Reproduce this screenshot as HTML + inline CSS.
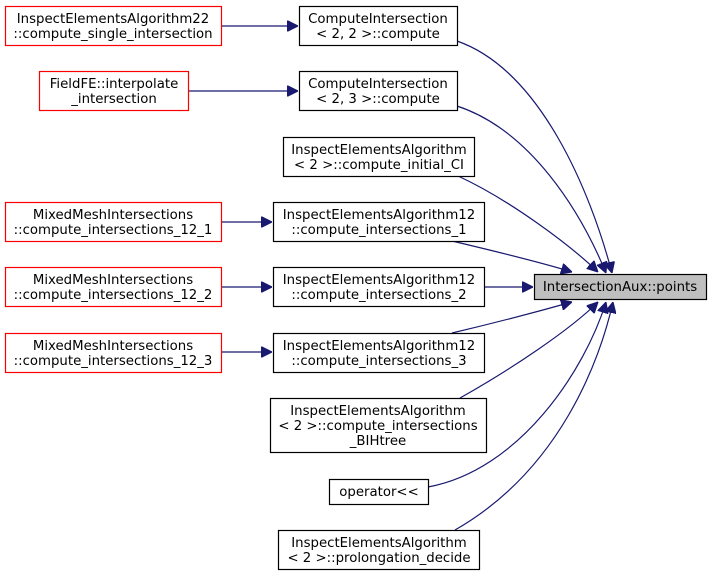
<!DOCTYPE html>
<html><head><meta charset="utf-8"><style>
html,body{margin:0;padding:0;background:#fff;}
text{font-family:"DejaVu Sans","Liberation Sans",sans-serif;font-size:13.3px;fill:#000;}
</style></head><body>
<svg width="712" height="576" viewBox="0 0 712 576" xmlns="http://www.w3.org/2000/svg">
<defs><marker id="a" viewBox="0 0 10 10" refX="10" refY="5" markerWidth="11" markerHeight="11" markerUnits="userSpaceOnUse" orient="auto"><path d="M0,0 L10,5 L0,10 z" fill="#191970" stroke="#191970"/></marker></defs>
<g fill="none" stroke="#191970" stroke-width="1.2">
<path d="M222,26 L298,26" marker-end="url(#a)"/>
<path d="M188,91 L298,91" marker-end="url(#a)"/>
<path d="M222,222 L272,222" marker-end="url(#a)"/>
<path d="M222,287 L272,287" marker-end="url(#a)"/>
<path d="M222,352 L272,352" marker-end="url(#a)"/>
<path d="M457,41 C540,70 590,190 612,273" marker-end="url(#a)"/>
<path d="M457,106 C530,130 580,210 606,273" marker-end="url(#a)"/>
<path d="M458,176 C510,200 570,245 598,272" marker-end="url(#a)"/>
<path d="M452,241 C490,250 540,262 572,272" marker-end="url(#a)"/>
<path d="M484,287 L533,287" marker-end="url(#a)"/>
<path d="M452,333 C490,324 540,311 572,302" marker-end="url(#a)"/>
<path d="M460,398 C510,370 570,330 598,302" marker-end="url(#a)"/>
<path d="M428,487 C520,470 585,370 606,302" marker-end="url(#a)"/>
<path d="M455,530 C560,470 600,360 613,302" marker-end="url(#a)"/>
</g>
<g stroke-width="1.2" fill="#fff">
<rect x="5.5" y="6.5" width="216" height="39" stroke="#ff0000"/>
<rect x="299.5" y="6.5" width="158" height="39" stroke="#000"/>
<rect x="39.5" y="71.5" width="149" height="39" stroke="#ff0000"/>
<rect x="299.5" y="71.5" width="158" height="39" stroke="#000"/>
<rect x="283.5" y="137.5" width="191" height="39" stroke="#000"/>
<rect x="5.5" y="202.5" width="216" height="39" stroke="#ff0000"/>
<rect x="273.5" y="202.5" width="211" height="39" stroke="#000"/>
<rect x="5.5" y="267.5" width="216" height="39" stroke="#ff0000"/>
<rect x="273.5" y="267.5" width="211" height="39" stroke="#000"/>
<rect x="5.5" y="333.5" width="216" height="39" stroke="#ff0000"/>
<rect x="273.5" y="333.5" width="211" height="39" stroke="#000"/>
<rect x="270.5" y="398.5" width="216" height="54" stroke="#000"/>
<rect x="329.5" y="479.5" width="99" height="25" stroke="#000"/>
<rect x="278.5" y="530.5" width="201" height="39" stroke="#000"/>
<rect x="534.5" y="274.5" width="172" height="25" stroke="#000" fill="#bfbfbf"/>
</g>
<g text-anchor="middle">
<text x="113" y="23">InspectElementsAlgorithm22</text><text x="113" y="38">::compute_single_intersection</text>
<text x="378" y="23">ComputeIntersection</text><text x="378" y="38">&lt; 2, 2 &gt;::compute</text>
<text x="114" y="88">FieldFE::interpolate</text><text x="114" y="103">_intersection</text>
<text x="378" y="88">ComputeIntersection</text><text x="378" y="103">&lt; 2, 3 &gt;::compute</text>
<text x="379" y="154">InspectElementsAlgorithm</text><text x="379" y="169">&lt; 2 &gt;::compute_initial_CI</text>
<text x="113" y="219">MixedMeshIntersections</text><text x="113" y="234">::compute_intersections_12_1</text>
<text x="379" y="219">InspectElementsAlgorithm12</text><text x="379" y="234">::compute_intersections_1</text>
<text x="113" y="284">MixedMeshIntersections</text><text x="113" y="299">::compute_intersections_12_2</text>
<text x="379" y="284">InspectElementsAlgorithm12</text><text x="379" y="299">::compute_intersections_2</text>
<text x="113" y="350">MixedMeshIntersections</text><text x="113" y="365">::compute_intersections_12_3</text>
<text x="379" y="350">InspectElementsAlgorithm12</text><text x="379" y="365">::compute_intersections_3</text>
<text x="378" y="415">InspectElementsAlgorithm</text><text x="378" y="430">&lt; 2 &gt;::compute_intersections</text><text x="378" y="445">_BIHtree</text>
<text x="379" y="496">operator&lt;&lt;</text>
<text x="379" y="547">InspectElementsAlgorithm</text><text x="379" y="562">&lt; 2 &gt;::prolongation_decide</text>
<text x="620" y="291">IntersectionAux::points</text>
</g>
</svg>
</body></html>
